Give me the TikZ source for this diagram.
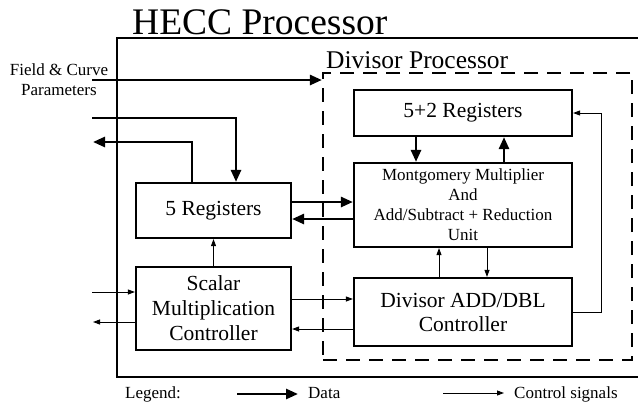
\documentclass[tikz,border=0pt]{standalone}
\usepackage{fontspec}
\setmainfont{Liberation Serif}
\usetikzlibrary{arrows.meta}
\begin{document}
\begin{tikzpicture}[x=1pt,y=-1pt,
  box/.style={draw, line width=2.2pt, rectangle, inner sep=0pt, align=center, font=\fontsize{21.5}{25}\selectfont},
  data/.style={line width=2.6pt, -{Triangle[length=12pt,width=10pt]}},
  ctrl/.style={line width=0.9pt, -{Triangle[length=7pt,width=5pt]}},
  lbl/.style={font=\fontsize{17}{19.5}\selectfont, inner sep=0pt}]
\useasboundingbox (0,0) rectangle (638,405);
% outer processor outline (right side cut off)
\draw[line width=2.2pt] (638,38) -- (117,38) -- (117,377) -- (638,377);
\node[anchor=base west, inner sep=0pt, font=\fontsize{37.5}{40}\selectfont] (title) at (132,34) {HECC Processor};
% divisor processor
\node[draw, line width=2.2pt, dash pattern=on 14pt off 9pt, minimum width=309pt, minimum height=287pt, inner sep=0pt] (dp) at (477.5,216.5) {};
\node[anchor=base west, inner sep=0pt, font=\fontsize{25.5}{28}\selectfont] (dptitle) at (326,68) {Divisor Processor};
% boxes
\node[box, minimum width=155pt, minimum height=55pt] (reg5) at (213.5,210.5) {5 Registers};
\node[box, minimum width=155pt, minimum height=83pt] (sc) at (213.5,308.5) {Scalar\\Multiplication\\Controller};
\node[box, minimum width=218pt, minimum height=46pt] (reg52) at (463,113) {5+2 Registers};
\node[box, minimum width=218pt, minimum height=84pt, font=\fontsize{17}{20}\selectfont] (mont) at (463,205) {Montgomery Multiplier\\And\\Add/Subtract + Reduction\\Unit};
\node[box, minimum width=218pt, minimum height=68pt, font=\fontsize{21.5}{24}\selectfont] (div) at (463,312) {Divisor ADD/DBL\\Controller};
% external labels and end points
\node[lbl, align=center] (fc) at (59,79.5) {Field \& Curve\\Parameters};
\coordinate (fin) at (92,80);
\coordinate (din) at (92,118);
\coordinate (dout) at (93,142);
\coordinate (cin) at (92,292);
\coordinate (cout) at (93,322);
\coordinate (rt) at (601,0);
% data connectors
\draw[data] (fin) -- (fin -| dp.west);
\draw[data] (din) -| ([xshift=22.5pt]reg5.north);
\draw[data] ([xshift=-21.5pt]reg5.north) |- (dout);
\draw[data] ([yshift=8.5pt]reg5.east) -- ([yshift=8.5pt]reg5.east -| mont.west);
\draw[data] ([yshift=-8.5pt]reg5.east -| mont.west) -- ([yshift=-8.5pt]reg5.east);
\draw[data] ([xshift=-47pt]reg52.south) -- ([xshift=-47pt]mont.north);
\draw[data] ([xshift=41pt]mont.north) -- ([xshift=41pt]reg52.south);
% control connectors
\draw[ctrl] ([xshift=-24pt]div.north) -- ([xshift=-24pt]mont.south);
\draw[ctrl] ([xshift=24pt]mont.south) -- ([xshift=24pt]div.north);
\draw[ctrl] (div.east) -| (rt |- div.east) |- (reg52.east);
\draw[ctrl] (sc.north) -- (reg5.south);
\draw[ctrl] ([yshift=9.5pt]sc.east) -- ([yshift=9.5pt]sc.east -| div.west);
\draw[ctrl] ([yshift=-20.5pt]sc.east -| div.west) -- ([yshift=-20.5pt]sc.east);
\draw[ctrl] (cin) -- (cin -| sc.west);
\draw[ctrl] (cout -| sc.west) -- (cout);
% legend
\node[lbl, anchor=base west] (leg) at (125,398) {Legend:};
\coordinate (ld1) at (237,394);
\coordinate (ld2) at (298,394);
\draw[data] (ld1) -- (ld2);
\node[lbl, anchor=base west] (ldata) at (308,398) {Data};
\coordinate (lc1) at (443,393);
\coordinate (lc2) at (504,393);
\draw[ctrl] (lc1) -- (lc2);
\node[lbl, anchor=base west] (lctrl) at (514,398) {Control signals};
\end{tikzpicture}
\end{document}
